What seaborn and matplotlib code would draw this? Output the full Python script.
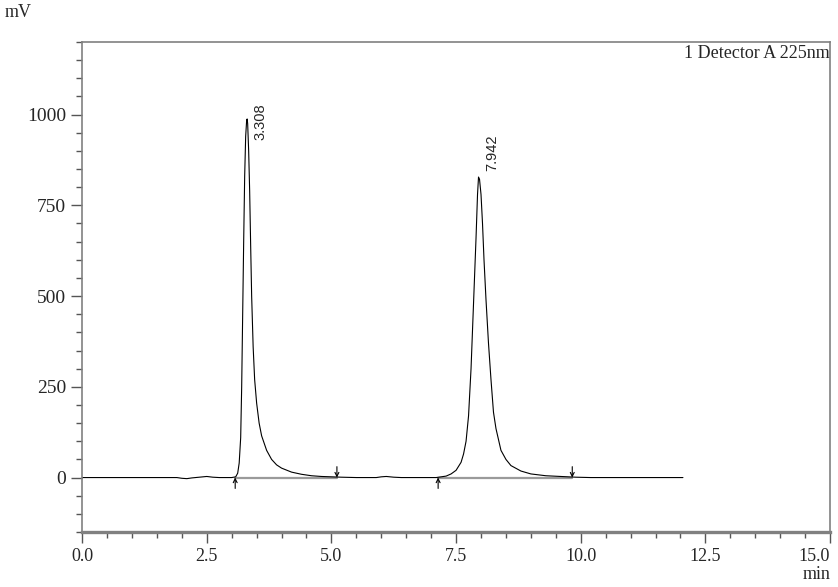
import matplotlib
matplotlib.use("Agg")
import matplotlib.pyplot as plt
import numpy as np
import pandas as pd
import seaborn as sns
from matplotlib.ticker import MultipleLocator

# chromatogram trace (min, mV)
trace_time = [0.0, 1.9, 2.0, 2.1, 2.2, 2.35, 2.5, 2.62, 2.75, 3.0,
              3.08, 3.12, 3.15, 3.18, 3.20, 3.22, 3.24, 3.26, 3.28, 3.30,
              3.31, 3.32, 3.34, 3.36, 3.38, 3.40, 3.43, 3.46, 3.50, 3.55,
              3.60, 3.70, 3.80, 3.90, 4.0, 4.2, 4.4, 4.6, 4.8, 5.0,
              5.2, 5.5, 5.9, 6.0, 6.1, 6.25, 6.4, 7.1, 7.3, 7.4,
              7.5, 7.6, 7.65, 7.70, 7.75, 7.80, 7.85, 7.90, 7.93, 7.95,
              7.97, 8.00, 8.03, 8.06, 8.10, 8.15, 8.20, 8.25, 8.30, 8.40,
              8.50, 8.60, 8.80, 9.0, 9.3, 9.6, 9.9, 10.2, 12.05]
trace_mv = [0, 0, -2, -3, -1, 1, 3, 1, 0, 0,
            2, 12, 40, 110, 250, 450, 650, 830, 940, 985,
            988, 975, 900, 790, 640, 500, 360, 270, 205, 150,
            115, 75, 50, 35, 26, 15, 9, 5, 3, 2,
            1, 0, 0, 2, 3, 1, 0, 0, 4, 10,
            20, 42, 65, 100, 170, 300, 480, 660, 780, 828,
            822, 780, 700, 600, 490, 370, 270, 180, 135, 75,
            50, 33, 18, 10, 5, 3, 1, 0, 0]

peak_times = ["3.308", "7.942"]
peak_label_x = [3.57, 8.23]
peak_label_y = [930, 845]

# integration start / end marks
peak_start = [3.07, 7.14]
peak_end = [5.11, 9.83]

x_ticks = [0, 2.5, 5, 7.5, 10, 12.5, 15]
x_tick_labels = ["0.0", "2.5", "5.0", "7.5", "10.0", "12.5", "15.0"]
y_ticks = [0, 250, 500, 750, 1000]

sns.set_style("ticks")
plt.rcParams["font.family"] = ["Liberation Serif", "DejaVu Serif"]
plt.rcParams["font.size"] = 12

fig = plt.figure(figsize=(8.38, 5.87), dpi=100)
ax = fig.add_axes([0.098, 0.0937, 0.8925, 0.8347])

trace = pd.DataFrame({"time": trace_time, "mv": trace_mv})

for s, e in zip(peak_start, peak_end):
    ax.plot([s, e], [0, 0], color="#9a9a9a", lw=1.6, zorder=1)

sns.lineplot(data=trace, x="time", y="mv", ax=ax, color="black", lw=0.8,
             sort=False, estimator=None, zorder=2)

for s, e in zip(peak_start, peak_end):
    ax.annotate("", xy=(s, 0), xytext=(s, -30),
                arrowprops=dict(arrowstyle="->", lw=0.8, color="black", mutation_scale=7,
                                shrinkA=0, shrinkB=0))
    ax.annotate("", xy=(e, 0), xytext=(e, 30),
                arrowprops=dict(arrowstyle="->", lw=0.8, color="black", mutation_scale=7,
                                shrinkA=0, shrinkB=0))

for lab, x, y in zip(peak_times, peak_label_x, peak_label_y):
    ax.text(x, y, lab, rotation=90, ha="center", va="bottom", fontsize=10.5,
            family=["Liberation Sans", "DejaVu Sans"])

ax.text(0.999, 0.993, "1 Detector A 225nm", transform=ax.transAxes,
        ha="right", va="top", fontsize=13)

ax.set_xlim(0, 15)
ax.set_ylim(-150, 1200)
ax.xaxis.set_minor_locator(MultipleLocator(0.5))
ax.yaxis.set_minor_locator(MultipleLocator(50))
ax.set_xticks(x_ticks)
ax.set_xticklabels(x_tick_labels)
ax.set_yticks(y_ticks)
ax.tick_params(axis="both", which="major", length=8, width=1, color="#555555")
ax.tick_params(axis="x", which="major", labelsize=13)
ax.tick_params(axis="y", which="major", labelsize=14)
ax.tick_params(axis="both", which="minor", length=4, width=1, color="#555555")
ax.get_xticklabels()[-1].set_horizontalalignment("right")
ax.set_xlabel("")
ax.set_ylabel("")

for side in ["top", "right", "left"]:
    ax.spines[side].set_visible(True)
    ax.spines[side].set_color("#808080")
    ax.spines[side].set_linewidth(1.2)
ax.spines["bottom"].set_color("#808080")
ax.spines["bottom"].set_linewidth(2.4)

fig.text(0.006, 0.978, "mV", ha="left", va="center", fontsize=13)
fig.text(0.991, 0.022, "min", ha="right", va="center", fontsize=13)

fig.savefig("out.png", dpi=100)
